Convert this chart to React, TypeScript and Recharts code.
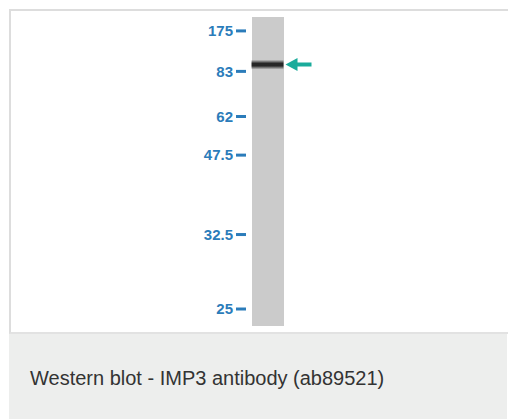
import { ComposedChart, Bar, Scatter, XAxis, YAxis } from 'recharts';

// ladder markers (kDa) and where they sit along the lane, in % of lane length from the top
const markerLabels = ['175', '83', '62', '47.5', '32.5', '25'];
const markerPositions = [4.5, 17.6, 32.2, 44.7, 70.4, 94.5];

const lanes = ['IMP3'];
const laneExtent = [0, 100];
const bandPositions = [15.4];

const data = lanes.map((lane, i) => ({
  lane,
  extent: laneExtent,
  band: bandPositions[i],
}));

const TICK_BLUE = '#2b7cba';
const ARROW_TEAL = '#1aab9b';

const BandShape = (props: any) => {
  const { cx, cy } = props;
  if (cx == null || cy == null) return null;
  const half = 16;
  const ax = cx + half + 2;
  return (
    <g>
      <defs>
        <linearGradient id="bandGrad" x1="0" y1="0" x2="0" y2="1">
          <stop offset="0%" stopColor="#3a3a3a" stopOpacity={0.15} />
          <stop offset="35%" stopColor="#1e1e1e" stopOpacity={0.95} />
          <stop offset="65%" stopColor="#1e1e1e" stopOpacity={0.95} />
          <stop offset="100%" stopColor="#3a3a3a" stopOpacity={0.15} />
        </linearGradient>
      </defs>
      <rect x={cx - half} y={cy - 4.5} width={half * 2} height={9} fill="url(#bandGrad)" />
      <polygon
        points={`${ax},${cy} ${ax + 12},${cy - 6.5} ${ax + 12},${cy - 2} ${ax + 26},${cy - 2} ${ax + 26},${cy + 2} ${ax + 12},${cy + 2} ${ax + 12},${cy + 6.5}`}
        fill={ARROW_TEAL}
      />
    </g>
  );
};

export default function App() {
  return (
    <div
      style={{
        position: 'absolute',
        left: 0,
        top: 0,
        width: 508,
        height: 419,
        background: '#fff',
        fontFamily: '"Liberation Sans", Arial, sans-serif',
      }}
    >
      <div
        style={{
          position: 'absolute',
          left: 9,
          top: 9,
          width: 499,
          height: 321,
          borderTop: '2px solid #dddddd',
          borderLeft: '2px solid #dddddd',
          borderBottom: '2px solid #e2e2e2',
        }}
      />
      <div
        style={{
          position: 'absolute',
          left: 9,
          top: 334,
          width: 498,
          height: 85,
          background: '#edeeed',
          boxSizing: 'border-box',
          paddingLeft: 21,
          paddingTop: 33,
          fontSize: 20,
          lineHeight: '23px',
          color: '#333',
        }}
      >
        Western blot - IMP3 antibody (ab89521)
      </div>
      <div style={{ position: 'absolute', left: 0, top: 0 }}>
        <ComposedChart
          width={508}
          height={333}
          data={data}
          margin={{ top: 17, right: 219, bottom: 7, left: 0 }}
        >
          <XAxis dataKey="lane" type="category" hide />
          <YAxis
            type="number"
            domain={[0, 100]}
            reversed
            width={246}
            ticks={markerPositions}
            interval={0}
            tickFormatter={(v: number) => markerLabels[markerPositions.indexOf(v)] ?? ''}
            axisLine={false}
            tickSize={10}
            tickMargin={3}
            tickLine={{ stroke: TICK_BLUE, strokeWidth: 3 }}
            tick={{ fill: TICK_BLUE, fontSize: 15, fontWeight: 600, fontFamily: '"Liberation Sans", Arial, sans-serif' }}
          />
          <Bar dataKey="extent" fill="#cbcbcb" barSize={32} isAnimationActive={false} />
          <Scatter dataKey="band" shape={BandShape} isAnimationActive={false} />
        </ComposedChart>
      </div>
    </div>
  );
}
